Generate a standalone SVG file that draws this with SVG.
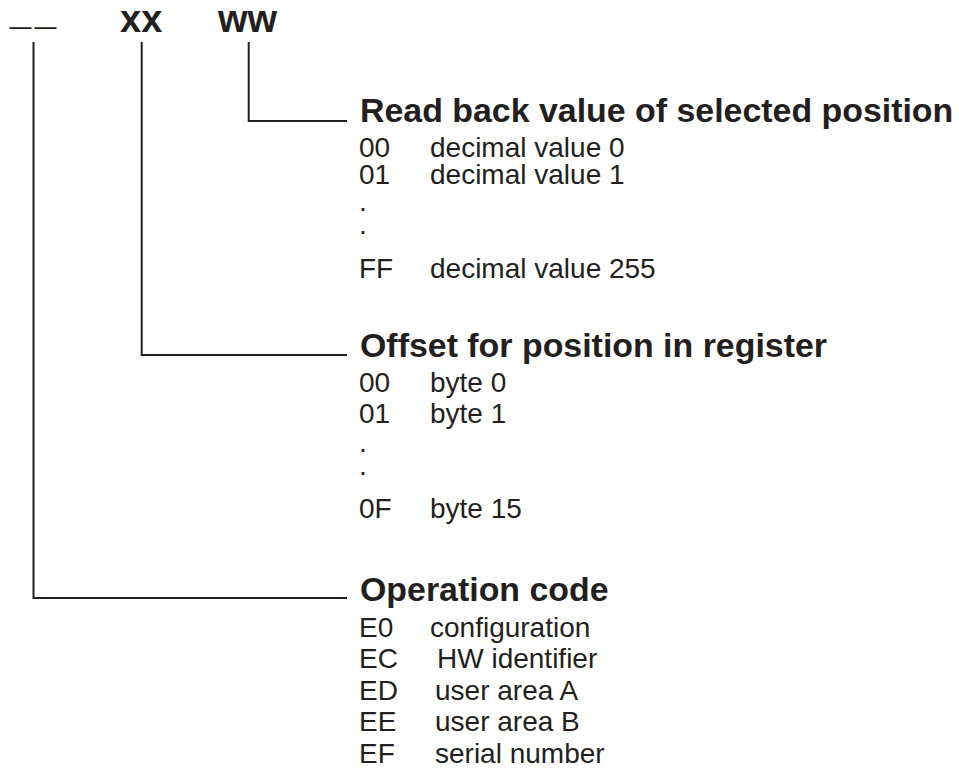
<svg xmlns="http://www.w3.org/2000/svg" width="959" height="773" viewBox="0 0 959 773">
<style>
text{font-family:"Liberation Sans",Arial,sans-serif;fill:#231f20}
.h{font-weight:bold;font-size:33.9px}
.r{font-size:28px}
.top{font-weight:bold;font-size:38px}
.us{font-size:28px}
.ln{fill:none;stroke:#231f20;stroke-width:2}
</style>
<rect width="959" height="773" fill="#fff"/>
<g id="fields">
<text class="us" y="22.5" transform="translate(10,0) scale(1.35,1)"><tspan x="0">_</tspan><tspan x="18.5">_</tspan></text>
<text class="top" x="120" y="32">xx</text>
<text class="top" x="218" y="32">ww</text>
</g>
<g id="connectors">
<polyline class="ln" points="248.7,42 248.7,121 347,121"/>
<polyline class="ln" points="141.7,42 141.7,355 347,355"/>
<polyline class="ln" points="33.5,42 33.5,598 347,598"/>
</g>
<g id="readback">
<text class="h" x="360" y="122">Read back value of selected position</text>
<text class="r" x="359" y="157">00</text><text class="r" x="430" y="157">decimal value 0</text>
<text class="r" x="359" y="184">01</text><text class="r" x="430" y="184">decimal value 1</text>
<text class="r" x="359" y="211">.</text>
<text class="r" x="359" y="234">.</text>
<text class="r" x="359" y="278">FF</text><text class="r" x="430" y="278">decimal value 255</text>
</g>
<g id="offset">
<text class="h" x="360" y="357">Offset for position in register</text>
<text class="r" x="359" y="392">00</text><text class="r" x="430" y="392">byte 0</text>
<text class="r" x="359" y="423">01</text><text class="r" x="430" y="423">byte 1</text>
<text class="r" x="359" y="452">.</text>
<text class="r" x="359" y="475">.</text>
<text class="r" x="359" y="518">0F</text><text class="r" x="430" y="518">byte 15</text>
</g>
<g id="opcode">
<text class="h" x="360" y="601">Operation code</text>
<text class="r" x="359" y="637">E0</text><text class="r" x="430" y="637">configuration</text>
<text class="r" x="359" y="668">EC</text><text class="r" x="437" y="668">HW identifier</text>
<text class="r" x="359" y="700">ED</text><text class="r" x="435" y="700">user area A</text>
<text class="r" x="359" y="731">EE</text><text class="r" x="435" y="731">user area B</text>
<text class="r" x="359" y="763">EF</text><text class="r" x="435" y="763">serial number</text>
</g>
</svg>
